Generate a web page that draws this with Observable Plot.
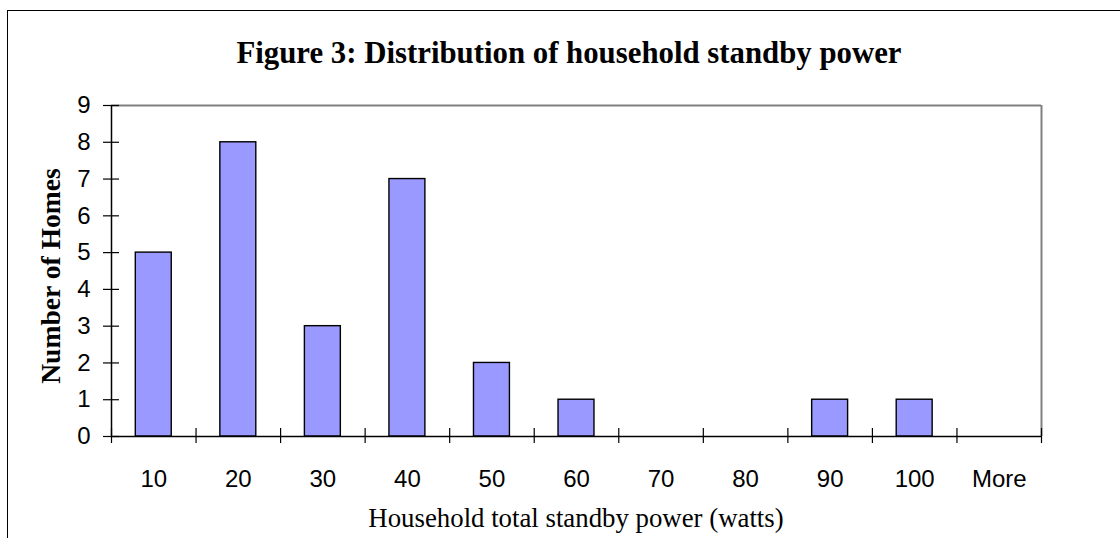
<!DOCTYPE html>
<html>
<head>
<meta charset="utf-8">
<script src="https://cdn.jsdelivr.net/npm/d3@7"></script>
<script src="https://cdn.jsdelivr.net/npm/@observablehq/plot@0.6"></script>
<style>
  html, body { margin: 0; padding: 0; background: #fff; overflow: hidden; }
  #wrap { position: relative; width: 1120px; height: 538px; }
  #border { position: absolute; left: 7px; top: 10px; width: 2000px; height: 2000px;
            border-left: 1.5px solid #000; border-top: 1.5px solid #000; pointer-events: none; }
  #chart { position: absolute; left: 0; top: 0; }
</style>
</head>
<body>
<div id="wrap"><div id="chart"></div><div id="border"></div></div>
<script>
const categories = ["10", "20", "30", "40", "50", "60", "70", "80", "90", "100", "More"];
const counts = [5, 8, 3, 7, 2, 1, 0, 0, 1, 1, 0];
const yTicks = [0, 1, 2, 3, 4, 5, 6, 7, 8, 9];
const titleText = "Figure 3: Distribution of household standby power";
const xTitle = "Household total standby power (watts)";
const yTitle = "Number of Homes";

const data = categories.map((c, i) => ({i, category: c, count: counts[i]}));
const n = categories.length;
const boundaries = d3.range(n + 1);
const centers = d3.range(n).map(i => i + 0.5);

const serif = "'Liberation Serif', 'Times New Roman', serif";

const chart = Plot.plot({
  width: 1120,
  height: 538,
  marginLeft: 111,
  marginRight: 79,
  marginTop: 105,
  marginBottom: 102,
  style: {fontFamily: "'Liberation Sans', Arial, sans-serif", fontSize: "24px", color: "#000", background: "#fff"},
  x: {type: "linear", domain: [0, n], axis: null},
  y: {domain: [0, 9], axis: null},
  marks: [
    Plot.ruleY([9], {stroke: "#808080", strokeWidth: 2}),
    Plot.ruleX([n], {stroke: "#808080", strokeWidth: 2}),
    Plot.rectY(data.filter(d => d.count > 0), {
      x1: "i", x2: d => d.i + 1, y: "count",
      insetLeft: 24.3, insetRight: 24.3,
      fill: "#9999FF", stroke: "#000", strokeWidth: 1.4
    }),
    Plot.ruleY([0], {stroke: "#000", strokeWidth: 1.5}),
    Plot.ruleX([0], {stroke: "#000", strokeWidth: 1.5}),
    // crossing tick marks
    Plot.axisX({ticks: boundaries, tickSize: 15, dy: -8, tickFormat: () => "", label: null, stroke: "#000", strokeWidth: 1.2}),
    Plot.axisY({ticks: yTicks, tickSize: 16, dx: 8, tickFormat: () => "", label: null, stroke: "#000", strokeWidth: 1.2}),
    // tick labels
    Plot.axisX({ticks: centers, tickSize: 0, tickPadding: 33, tickFormat: d => categories[Math.floor(d)], label: null, fontSize: 24}),
    Plot.axisY({ticks: yTicks, tickSize: 0, tickPadding: 21, tickFormat: d3.format("d"), label: null, fontSize: 24}),
    // titles
    Plot.text([titleText], {frameAnchor: "top", textAnchor: "middle", dx: -7.5, dy: -52.6, lineAnchor: "middle",
      fontFamily: serif, fontWeight: "bold", fontSize: 30.8, fill: "#000"}),
    Plot.text([xTitle], {frameAnchor: "bottom", textAnchor: "middle", dx: -0.5, dy: 81.7, lineAnchor: "middle",
      fontFamily: serif, fontSize: 26.8, fill: "#000"}),
    Plot.text([yTitle], {frameAnchor: "left", textAnchor: "middle", rotate: -90, dx: -60.5, dy: 5, lineAnchor: "middle",
      fontFamily: serif, fontWeight: "bold", fontSize: 27.6, fill: "#000"})
  ]
});
document.getElementById("chart").appendChild(chart);
</script>
</body>
</html>
